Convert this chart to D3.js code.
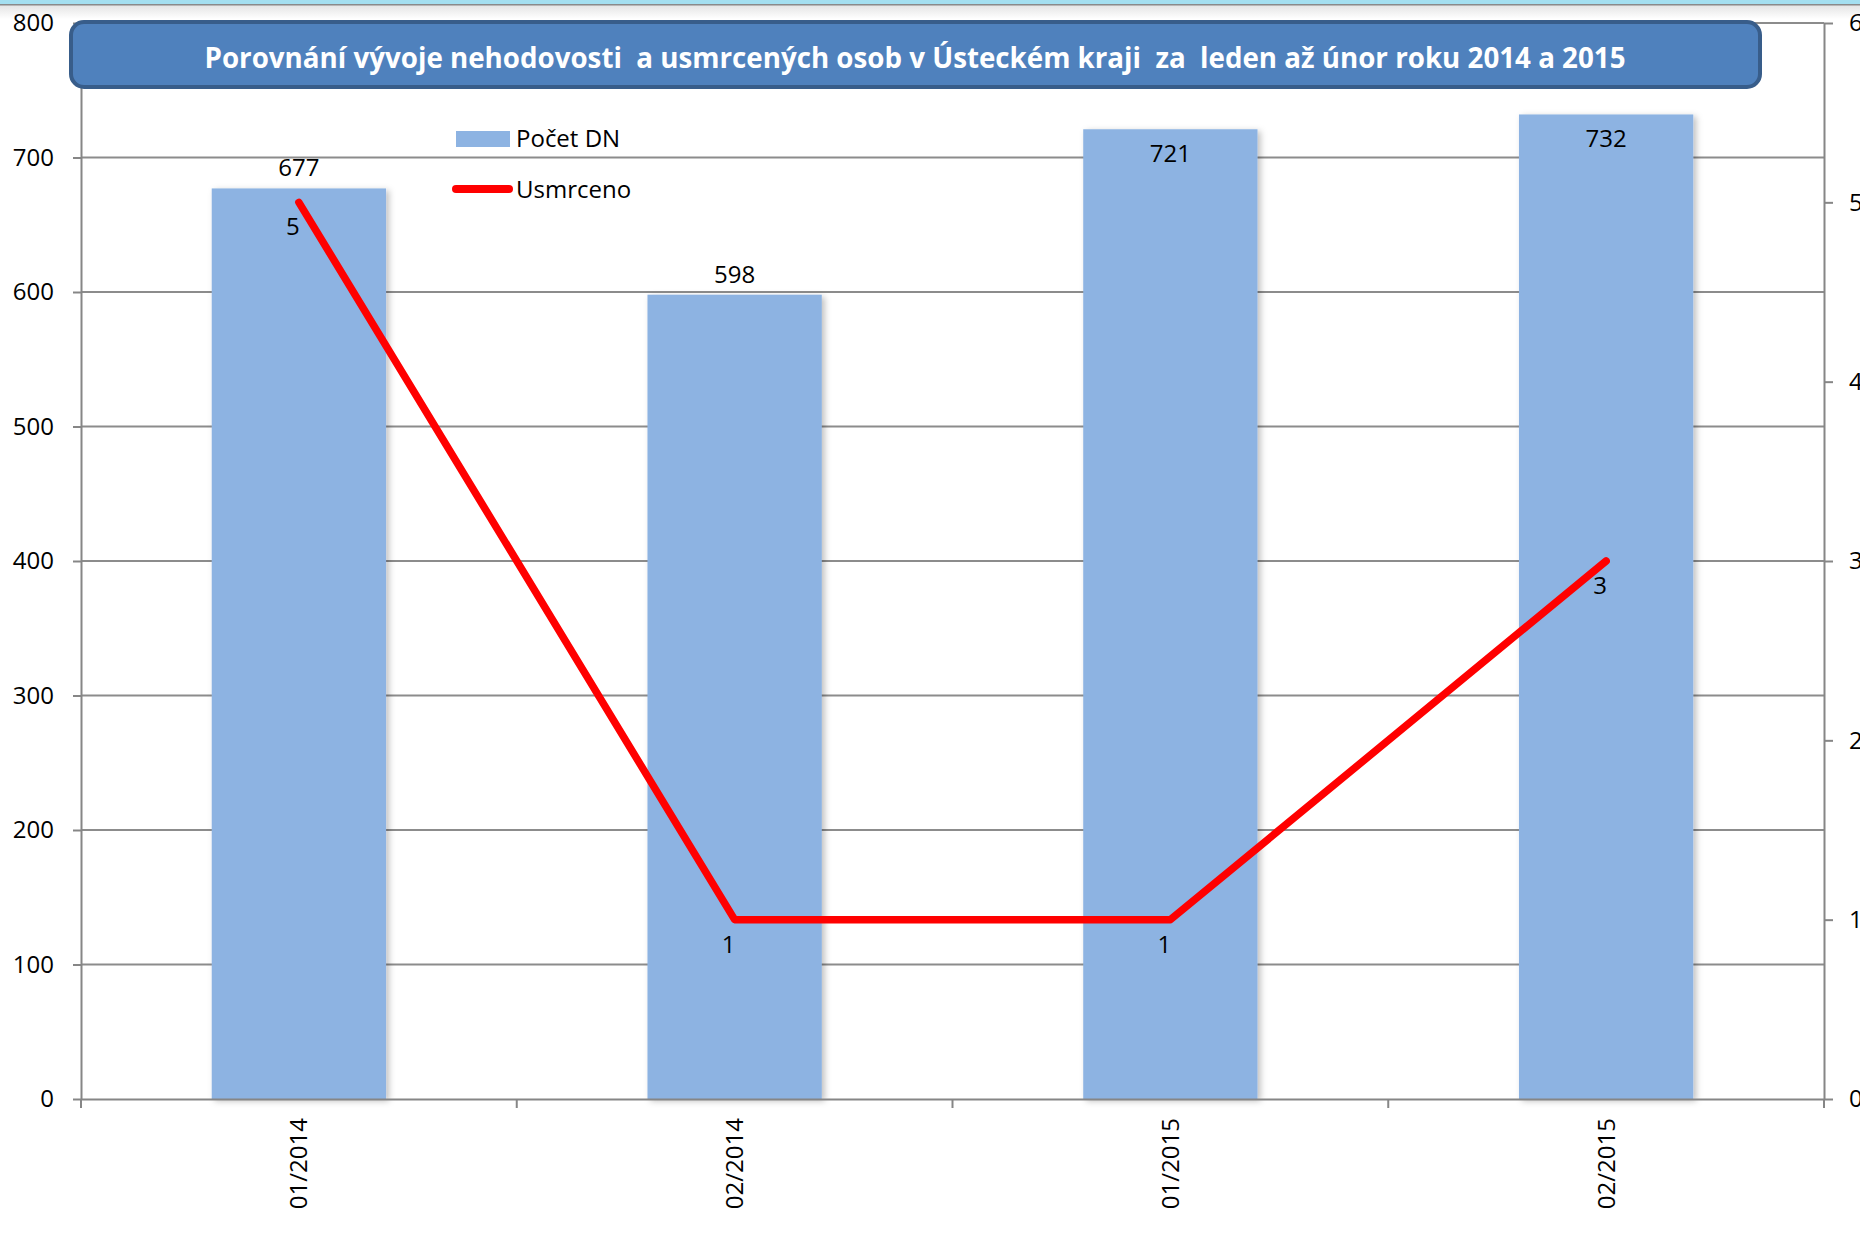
<!DOCTYPE html>
<html>
<head>
<meta charset="utf-8">
<script src="https://cdn.jsdelivr.net/npm/d3@7"></script>
<style>
  body { margin: 0; background: #fff; }
  svg { display: block; }
</style>
</head>
<body>
<script>
// chart data
const categories = ["01/2014", "02/2014", "01/2015", "02/2015"];
const pocetDN = [677, 598, 721, 732];
const usmrceno = [5, 1, 1, 3];
const leftTicks = [0, 100, 200, 300, 400, 500, 600, 700, 800];
const rightTicks = [0, 1, 2, 3, 4, 5, 6];
const titleText = "Porovnání vývoje nehodovosti  a usmrcených osob v Ústeckém kraji  za  leden až únor roku 2014 a 2015";

const width = 1860, height = 1242;
const plotLeft = 81, plotRight = 1824, plotTop = 23, plotBottom = 1099;
const font = "'Open Sans', 'DejaVu Sans', sans-serif";

const svg = d3.select("body").append("svg")
    .attr("width", width)
    .attr("height", height);

// window strip at the very top
const defs = svg.append("defs");
const grad = defs.append("linearGradient").attr("id", "topFade").attr("x1", 0).attr("y1", 0).attr("x2", 0).attr("y2", 1);
grad.append("stop").attr("offset", "0%").attr("stop-color", "#e4e4e4");
grad.append("stop").attr("offset", "100%").attr("stop-color", "#ffffff");
svg.append("rect").attr("x", 0).attr("y", 5).attr("width", width).attr("height", 14).attr("fill", "url(#topFade)");
svg.append("rect").attr("x", 0).attr("y", 0).attr("width", width).attr("height", 4).attr("fill", "#a4dff0");
svg.append("rect").attr("x", 0).attr("y", 4).attr("width", width).attr("height", 1.5).attr("fill", "#8a8a8a");

// soft shadow for the bars
const shadow = defs.append("filter").attr("id", "barShadow").attr("x", "-10%").attr("y", "-10%").attr("width", "130%").attr("height", "130%");
shadow.append("feDropShadow").attr("dx", 3).attr("dy", 2).attr("stdDeviation", 3)
    .attr("flood-color", "#000").attr("flood-opacity", 0.25);

// scales
const x = d3.scaleBand()
    .domain(categories)
    .range([plotLeft, plotRight])
    .paddingInner(0.6)
    .paddingOuter(0.3);

const yLeft = d3.scaleLinear().domain([0, 800]).range([plotBottom, plotTop]);
const yRight = d3.scaleLinear().domain([0, 6]).range([plotBottom, plotTop]);

// gridlines
svg.append("g")
    .selectAll("line")
    .data(leftTicks.filter(d => d > 0))
    .enter()
    .append("line")
    .attr("x1", plotLeft)
    .attr("x2", plotRight)
    .attr("y1", d => yLeft(d))
    .attr("y2", d => yLeft(d))
    .attr("stroke", "#8c8c8c")
    .attr("stroke-width", 2);

// bars
svg.append("g")
    .selectAll("rect")
    .data(pocetDN)
    .enter()
    .append("rect")
    .attr("x", (d, i) => x(categories[i]))
    .attr("y", d => yLeft(d))
    .attr("width", x.bandwidth())
    .attr("height", d => plotBottom - yLeft(d))
    .attr("fill", "#8db3e2")
    .attr("filter", "url(#barShadow)");

// axes
function styleAxis(g) {
    g.selectAll("path.domain").attr("stroke", "#868686").attr("stroke-width", 2);
    g.selectAll(".tick line").attr("stroke", "#868686").attr("stroke-width", 2);
    g.selectAll(".tick text")
        .attr("fill", "#000")
        .style("font-family", font)
        .style("font-size", "24px");
}

svg.append("g")
    .attr("transform", `translate(${plotLeft},0)`)
    .call(d3.axisLeft(yLeft).tickValues(leftTicks).tickSize(8).tickPadding(19).tickSizeOuter(0))
    .call(styleAxis);

svg.append("g")
    .attr("transform", `translate(${plotRight},0)`)
    .call(d3.axisRight(yRight).tickValues(rightTicks).tickSize(9).tickPadding(16).tickSizeOuter(0))
    .call(styleAxis);

// category axis: labels rotated, ticks between categories
const xAxis = svg.append("g")
    .attr("transform", `translate(0,${plotBottom})`)
    .call(d3.axisBottom(x).tickSize(0).tickSizeOuter(0))
    .call(styleAxis);

xAxis.selectAll(".tick text")
    .attr("transform", "rotate(-90)")
    .attr("text-anchor", "end")
    .attr("x", -19)
    .attr("y", 0)
    .attr("dy", "0.35em");

const step = x.step();
const edges = categories.map(c => x(c) - (step - x.bandwidth()) / 2).concat([plotRight]);
xAxis.selectAll("line.edge")
    .data(edges)
    .enter()
    .append("line")
    .attr("class", "edge")
    .attr("x1", d => d)
    .attr("x2", d => d)
    .attr("y1", 0)
    .attr("y2", 9)
    .attr("stroke", "#868686")
    .attr("stroke-width", 2);

// bar value labels
svg.append("g")
    .selectAll("text")
    .data(pocetDN)
    .enter()
    .append("text")
    .attr("x", (d, i) => x(categories[i]) + x.bandwidth() / 2)
    .attr("y", d => d > 700 ? yLeft(d) + 33 : yLeft(d) - 12)
    .attr("text-anchor", "middle")
    .style("font-family", font)
    .style("font-size", "24px")
    .attr("fill", "#000")
    .text(d => d);

// Usmrceno line
const cx = i => x(categories[i]) + x.bandwidth() / 2;
const line = d3.line()
    .x((d, i) => cx(i))
    .y(d => yRight(d));

svg.append("path")
    .datum(usmrceno)
    .attr("d", line)
    .attr("fill", "none")
    .attr("stroke", "#ff0000")
    .attr("stroke-width", 7.5)
    .attr("stroke-linejoin", "round")
    .attr("stroke-linecap", "round");

svg.append("g")
    .selectAll("text")
    .data(usmrceno)
    .enter()
    .append("text")
    .attr("x", (d, i) => cx(i) - 6)
    .attr("y", d => yRight(d) + 33)
    .attr("text-anchor", "middle")
    .style("font-family", font)
    .style("font-size", "24px")
    .attr("fill", "#000")
    .text(d => d);

// title box
svg.append("rect")
    .attr("x", 71)
    .attr("y", 22)
    .attr("width", 1689)
    .attr("height", 65)
    .attr("rx", 13)
    .attr("fill", "#4f81bd")
    .attr("stroke", "#385d8a")
    .attr("stroke-width", 4);

svg.append("text")
    .attr("x", 915)
    .attr("y", 68)
    .attr("text-anchor", "middle")
    .attr("textLength", 1421)
    .attr("lengthAdjust", "spacingAndGlyphs")
    .style("font-family", font)
    .style("font-size", "28px")
    .style("font-weight", "bold")
    .style("white-space", "pre")
    .attr("fill", "#fff")
    .text(titleText);

// legend
const legend = svg.append("g");
legend.append("rect")
    .attr("x", 456).attr("y", 131)
    .attr("width", 54).attr("height", 16)
    .attr("fill", "#8db3e2");
legend.append("text")
    .attr("x", 516).attr("y", 147)
    .style("font-family", font).style("font-size", "24px")
    .attr("fill", "#000")
    .text("Počet DN");
legend.append("line")
    .attr("x1", 456).attr("x2", 509)
    .attr("y1", 189).attr("y2", 189)
    .attr("stroke", "#ff0000")
    .attr("stroke-width", 8)
    .attr("stroke-linecap", "round");
legend.append("text")
    .attr("x", 516).attr("y", 198)
    .style("font-family", font).style("font-size", "24px")
    .attr("fill", "#000")
    .text("Usmrceno");
</script>
</body>
</html>
